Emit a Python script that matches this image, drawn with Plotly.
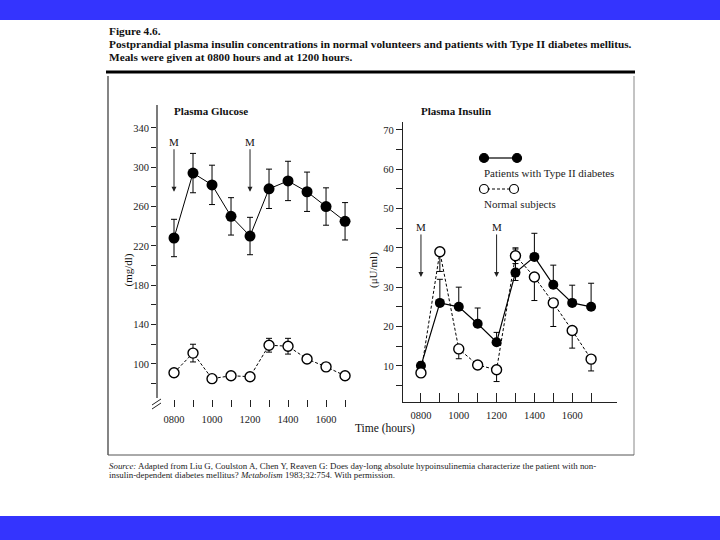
import plotly.graph_objects as go

W, H = 720, 540

# ---------------- data ----------------
hours = [8, 9, 10, 11, 12, 13, 14, 15, 16, 17]
hour_ticks = [8, 9, 10, 11, 12, 13, 14, 15, 16, 17]
hour_labels = ["0800", "", "1000", "", "1200", "", "1400", "", "1600", ""]

glucose_diab = [228, 294, 282, 250, 230, 278, 286, 275, 260, 245]
glucose_diab_err = [19, 20, 20, 19, 19, 20, 20, 20, 19, 19]
glucose_norm = [91, 111, 85, 88, 87, 119, 118, 105, 97, 88]
glucose_norm_err = [4, 9, 4, 4, 4, 7, 8, 4, 4, 4]

insulin_diab = [10, 26, 25, 20.7, 16, 33.7, 37.7, 30.6, 26, 25]
insulin_diab_up = [1, 6, 5, 4, 2.5, 6, 6, 5, 4.5, 6]
insulin_diab_down = [0, 0, 0, 0, 0, 2, 0, 0, 0, 0]
insulin_norm = [8.2, 39, 14.3, 10.2, 9, 38, 32.6, 26, 19, 11.7]
insulin_norm_up = [0, 0, 0, 0, 0, 2, 0, 0, 0, 0]
insulin_norm_down = [1, 5, 2.5, 1, 3, 2, 6, 6, 4.5, 3]

glucose_ticks = [80, 100, 120, 140, 160, 180, 200, 220, 240, 260, 280, 300, 320, 340]
glucose_labels = ["", "100", "", "140", "", "180", "", "220", "", "260", "", "300", "", "340"]
insulin_ticks = [5, 10, 15, 20, 25, 30, 35, 40, 45, 50, 55, 60, 65, 70]
insulin_labels = ["", "10", "", "20", "", "30", "", "40", "", "50", "", "60", "", "70"]

meal_hours = [8, 12]

SERIF = "Liberation Serif, Times New Roman, serif"


def px(x):
    return x / W


def py(y):
    return 1 - y / H


fig = go.Figure()

# ---------------- traces ----------------
fig.add_trace(go.Scatter(
    x=hours, y=glucose_diab, mode="lines+markers", xaxis="x", yaxis="y",
    line=dict(color="black", width=1),
    marker=dict(color="black", size=11),
    error_y=dict(type="data", array=glucose_diab_err, color="black", thickness=1, width=3),
    showlegend=False))
fig.add_trace(go.Scatter(
    x=hours, y=glucose_norm, mode="lines+markers", xaxis="x", yaxis="y",
    line=dict(color="black", width=1, dash="3px,2px"),
    marker=dict(color="white", size=10, line=dict(color="black", width=1.4)),
    error_y=dict(type="data", array=glucose_norm_err, color="black", thickness=1, width=3),
    showlegend=False))
fig.add_trace(go.Scatter(
    x=hours, y=insulin_diab, mode="lines+markers", xaxis="x2", yaxis="y2",
    line=dict(color="black", width=1.2),
    marker=dict(color="black", size=10),
    error_y=dict(type="data", symmetric=False, array=insulin_diab_up,
                 arrayminus=insulin_diab_down, color="black", thickness=1, width=3),
    showlegend=False))
fig.add_trace(go.Scatter(
    x=hours, y=insulin_norm, mode="lines+markers", xaxis="x2", yaxis="y2",
    line=dict(color="black", width=1, dash="3px,2px"),
    marker=dict(color="white", size=10, line=dict(color="black", width=1.4)),
    error_y=dict(type="data", symmetric=False, array=insulin_norm_up,
                 arrayminus=insulin_norm_down, color="black", thickness=1, width=3),
    showlegend=False))

tickfont = dict(family=SERIF, size=10.5, color="#222")

fig.update_layout(
    width=W, height=H,
    margin=dict(l=0, r=0, t=0, b=0),
    paper_bgcolor="white", plot_bgcolor="rgba(0,0,0,0)",
    xaxis=dict(domain=[px(157), px(365)], range=[7.105, 18.05],
               tickvals=hour_ticks, ticktext=hour_labels, ticks="inside", ticklen=7,
               tickcolor="#222", showline=False, showgrid=False, zeroline=False,
               tickfont=tickfont, ticklabelstandoff=4, anchor="y"),
    yaxis=dict(domain=[py(407), py(105)], range=[56.2, 363.2],
               tickvals=glucose_ticks, ticktext=glucose_labels, ticks="outside", ticklen=5,
               tickcolor="#222", showline=False, showgrid=False, zeroline=False,
               tickfont=tickfont, anchor="x"),
    xaxis2=dict(domain=[px(403), px(617)], range=[7.05, 18.37],
                tickvals=hour_ticks, ticktext=hour_labels, ticks="inside", ticklen=9,
                tickcolor="#222", showline=True, linecolor="#222", linewidth=1,
                showgrid=False, zeroline=False, tickfont=tickfont,
                ticklabelstandoff=3, anchor="y2"),
    yaxis2=dict(domain=[py(402), py(122)], range=[0.8, 72],
                tickvals=insulin_ticks, ticktext=insulin_labels, ticks="outside", ticklen=6,
                tickcolor="#222", showline=True, linecolor="#222", linewidth=1.2,
                showgrid=False, zeroline=False, tickfont=tickfont, anchor="x2"),
)

shapes = []
# blue bands
shapes.append(dict(type="rect", xref="paper", yref="paper", x0=0, x1=1, y0=py(20), y1=1,
                   fillcolor="#3434FE", line=dict(width=0), layer="below"))
shapes.append(dict(type="rect", xref="paper", yref="paper", x0=0, x1=1, y0=0, y1=py(516),
                   fillcolor="#3434FE", line=dict(width=0), layer="below"))
# figure frame
shapes.append(dict(type="line", xref="paper", yref="paper", x0=px(106), x1=px(635),
                   y0=py(72), y1=py(72), line=dict(color="black", width=3)))
shapes.append(dict(type="line", xref="paper", yref="paper", x0=px(108), x1=px(108),
                   y0=py(76), y1=py(455), line=dict(color="#333", width=1.2)))
shapes.append(dict(type="line", xref="paper", yref="paper", x0=px(634), x1=px(634),
                   y0=py(76), y1=py(455), line=dict(color="#888", width=1)))
shapes.append(dict(type="line", xref="paper", yref="paper", x0=px(108), x1=px(634),
                   y0=py(455), y1=py(455), line=dict(color="#555", width=1)))
# glucose y-axis line (with break at bottom)
shapes.append(dict(type="line", xref="paper", yref="paper", x0=px(157), x1=px(157),
                   y0=py(398), y1=py(105), line=dict(color="#222", width=1.2)))
shapes.append(dict(type="line", xref="paper", yref="paper", x0=px(152), x1=px(161),
                   y0=py(405), y1=py(399), line=dict(color="#222", width=1)))
shapes.append(dict(type="line", xref="paper", yref="paper", x0=px(152), x1=px(161),
                   y0=py(409), y1=py(403), line=dict(color="#222", width=1)))
# legend keys
shapes.append(dict(type="line", xref="paper", yref="paper", x0=px(486), x1=px(515),
                   y0=py(158), y1=py(158), line=dict(color="black", width=1.2)))
shapes.append(dict(type="line", xref="paper", yref="paper", x0=px(487), x1=px(511),
                   y0=py(189), y1=py(189), line=dict(color="black", width=1, dash="3px,2px")))
for cx, cy, fill in [(484, 158, "black"), (517, 158, "black"), (484, 189, "white"), (514, 189, "white")]:
    shapes.append(dict(type="circle", xref="paper", yref="paper",
                       x0=px(cx - 4.5), x1=px(cx + 4.5), y0=py(cy + 4.5), y1=py(cy - 4.5),
                       fillcolor=fill, line=dict(color="black", width=1.2)))
fig.update_layout(shapes=shapes)

ann = []
title_lines = [
    (31, "<b>Figure 4.6.</b>"),
    (44, "<b>Postprandial plasma insulin concentrations in normal volunteers and patients with Type II diabetes mellitus.</b>"),
    (57, "<b>Meals were given at 0800 hours and at 1200 hours.</b>"),
]
for y, t in title_lines:
    ann.append(dict(xref="paper", yref="paper", x=px(107), y=py(y), text=t, showarrow=False,
                    xanchor="left", yanchor="middle", font=dict(family=SERIF, size=11.3, color="#111")))

ann.append(dict(xref="paper", yref="paper", x=px(172), y=py(111), text="<b>Plasma Glucose</b>",
                showarrow=False, xanchor="left", yanchor="middle",
                font=dict(family=SERIF, size=11, color="#111")))
ann.append(dict(xref="paper", yref="paper", x=px(419), y=py(111), text="<b>Plasma Insulin</b>",
                showarrow=False, xanchor="left", yanchor="middle",
                font=dict(family=SERIF, size=11, color="#111")))
ann.append(dict(xref="paper", yref="paper", x=px(119), y=py(270), text="(mg/dl)", textangle=-90,
                showarrow=False, font=dict(family=SERIF, size=11, color="#111")))
ann.append(dict(xref="paper", yref="paper", x=px(373), y=py(270), text="(\u03bcU/ml)", textangle=-90,
                showarrow=False, font=dict(family=SERIF, size=11, color="#111")))
ann.append(dict(xref="paper", yref="paper", x=px(385), y=py(437), text="Time (hours)",
                showarrow=False, font=dict(family=SERIF, size=11.5, color="#111")))
ann.append(dict(xref="paper", yref="paper", x=px(482), y=py(173), text="Patients with Type II diabetes",
                showarrow=False, xanchor="left", yanchor="middle",
                font=dict(family=SERIF, size=11, color="#222")))
ann.append(dict(xref="paper", yref="paper", x=px(482), y=py(204), text="Normal subjects",
                showarrow=False, xanchor="left", yanchor="middle",
                font=dict(family=SERIF, size=11, color="#222")))
ann.append(dict(xref="paper", yref="paper", x=px(107), y=py(466),
                text="<i>Source:</i> Adapted from Liu G, Coulston A, Chen Y, Reaven G: Does day-long absolute hypoinsulinemia characterize the patient with non-",
                showarrow=False, xanchor="left", yanchor="middle",
                font=dict(family=SERIF, size=8.9, color="#222")))
ann.append(dict(xref="paper", yref="paper", x=px(107), y=py(475),
                text="insulin-dependent diabetes mellitus? <i>Metabolism</i> 1983;32:754. With permission.",
                showarrow=False, xanchor="left", yanchor="middle",
                font=dict(family=SERIF, size=8.9, color="#222")))

# meal arrows
for h in meal_hours:
    ann.append(dict(xref="x", yref="y", x=h, y=275, ax=0, ay=-50, text="M", showarrow=True,
                    arrowhead=2, arrowsize=1, arrowwidth=1, arrowcolor="#222",
                    font=dict(family=SERIF, size=11, color="#111")))
    ann.append(dict(xref="x2", yref="y2", x=h, y=32.6, ax=0, ay=-50, text="M", showarrow=True,
                    arrowhead=2, arrowsize=1, arrowwidth=1, arrowcolor="#222",
                    font=dict(family=SERIF, size=11, color="#111")))
fig.update_layout(annotations=ann)

fig.write_html("out.html",
               config={"displayModeBar": False},
               post_script="document.body.style.margin='0';document.body.style.overflow='hidden';")
